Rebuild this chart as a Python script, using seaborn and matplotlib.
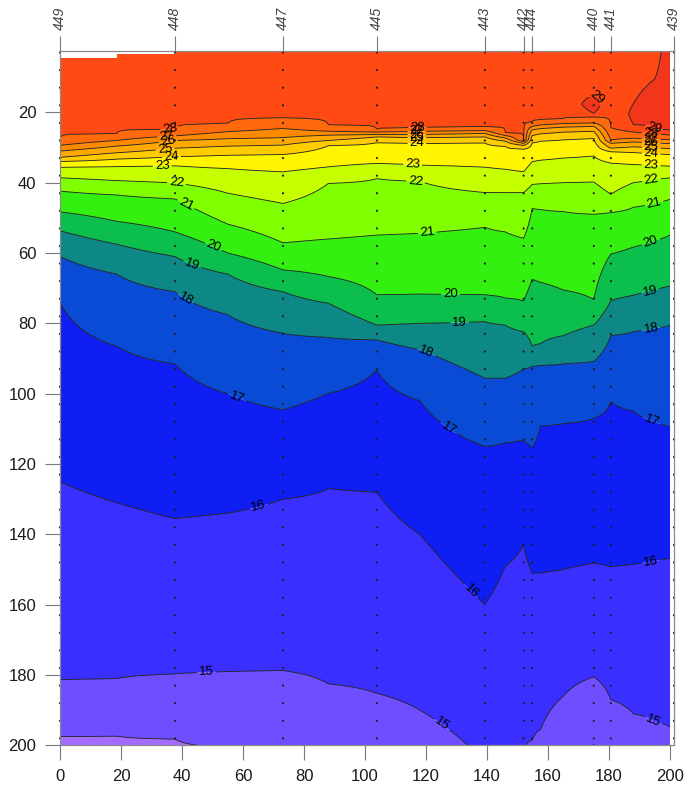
import numpy as np
import pandas as pd
import matplotlib
matplotlib.use("Agg")
import matplotlib.pyplot as plt
import seaborn as sns

# ---- stations along the section (distance, km) ----
station_ids = ["449", "448", "447", "445", "443", "442", "444", "440", "441", "439"]
station_x = [0.0, 37.7, 73.1, 103.9, 139.3, 152.0, 154.8, 175.0, 180.6, 201.3]
sample_depths = list(range(3, 200, 5))

# ---- gridded columns and isotherm depths (m) ----
col_x = [0, 18.6, 37.7, 55, 73.1, 88, 103.9, 118, 139.3, 146, 152, 154.8, 157.5,
         165, 175, 180.6, 188, 195, 200]

surf_T = [28.6] * 17 + [28.7, 29.3]
warm_top = [np.nan] * 14 + [15.0, np.nan, 17.5, 10.5, np.nan]
warm_bot = [np.nan] * 14 + [20.3, np.nan, 23.5, 24.8, 25.0]
warm_core = [np.nan] * 14 + [29.6, np.nan, 29.25, 29.25, 29.3]

iso_28 = [27.3, 26.0, 24.8, 23.2, 21.6, 23.5, 24.9, 24.4, 24.1, 25.8, 27.8, 22.7, 22.2, 21.8, 21.3, 24.4, 25.6, 26.0, 26.5]
iso_27 = [29.4, 28.0, 26.7, 25.5, 24.6, 25.4, 25.6, 25.4, 25.2, 26.6, 28.3, 24.0, 23.6, 23.2, 23.0, 27.9, 27.4, 27.6, 27.8]
iso_26 = [31.0, 29.6, 28.0, 27.5, 27.2, 26.5, 26.3, 26.3, 26.0, 27.3, 28.8, 25.0, 24.6, 24.2, 24.0, 28.8, 28.4, 28.7, 28.9]
iso_25 = [32.8, 31.5, 30.2, 29.6, 29.3, 28.0, 27.0, 27.2, 27.0, 28.2, 29.4, 26.6, 26.1, 25.6, 25.4, 30.2, 29.8, 30.1, 30.3]
iso_24 = [34.0, 33.3, 32.6, 32.2, 32.0, 29.5, 28.6, 28.8, 28.7, 29.7, 30.5, 28.7, 28.2, 27.8, 27.4, 31.2, 31.4, 31.8, 32.0]
iso_23 = [35.6, 35.4, 35.2, 36.0, 36.9, 35.5, 34.5, 35.0, 35.6, 36.2, 36.9, 34.0, 33.6, 33.0, 32.4, 34.4, 34.8, 35.1, 35.3]
iso_22 = [38.6, 39.4, 40.1, 43.0, 45.9, 40.2, 38.8, 39.6, 42.8, 42.8, 42.8, 40.5, 40.3, 40.0, 39.8, 43.3, 40.0, 39.0, 38.6]
iso_21 = [42.4, 43.5, 44.6, 51.8, 57.1, 56.0, 54.9, 54.4, 52.7, 54.0, 55.8, 47.3, 47.6, 48.2, 49.0, 48.5, 47.0, 45.8, 44.7]
iso_20 = [48.3, 51.0, 54.0, 60.0, 64.8, 66.7, 71.9, 71.7, 71.9, 72.8, 73.6, 67.5, 68.3, 70.5, 73.2, 60.3, 58.3, 56.5, 54.9]
iso_19 = [53.7, 57.5, 61.0, 66.0, 71.0, 74.3, 80.5, 80.0, 79.5, 80.5, 82.4, 86.5, 85.8, 83.5, 80.5, 73.5, 72.0, 70.5, 69.4]
iso_18 = [61.0, 66.0, 71.0, 77.5, 82.8, 84.0, 84.7, 87.5, 95.6, 95.6, 93.0, 92.2, 92.0, 91.5, 90.8, 83.5, 82.3, 81.3, 80.5]
iso_17 = [74.1, 86.5, 91.5, 100.0, 104.6, 99.9, 93.3, 102.0, 115.0, 114.0, 113.2, 115.3, 109.2, 108.5, 107.0, 102.2, 105.0, 108.0, 109.4]
iso_16 = [125.0, 131.0, 135.5, 134.0, 130.0, 127.0, 128.0, 140.0, 160.0, 149.0, 143.0, 151.0, 151.0, 150.0, 148.2, 149.2, 148.5, 147.5, 146.8]
iso_15 = [181.4, 181.0, 179.7, 179.0, 178.7, 182.5, 185.2, 190.0, 205.0, 207.0, 201.0, 198.5, 195.5, 186.0, 180.5, 187.0, 191.0, 193.3, 194.8]
iso_14 = [197.5, 197.3, 198.2, 200.6, 206.0, 212.0, 218.0, 222.0, 226.0, 226.0, 224.0, 220.0, 217.0, 212.0, 199.6, 210.0, 214.0, 216.0, 218.0]

# first sampled depth at the western stations (white above)
gap_x = [0.0, 18.6, 37.7]
gap_depth = [4.6, 3.5]

# ---- build temperature field ----
isotherms = {28: iso_28, 27: iso_27, 26: iso_26, 25: iso_25, 24: iso_24, 23: iso_23,
             22: iso_22, 21: iso_21, 20: iso_20, 19: iso_19, 18: iso_18, 17: iso_17,
             16: iso_16, 15: iso_15, 14: iso_14}
depth = np.linspace(0, 200, 801)
field = np.empty((depth.size, len(col_x)))
for j in range(len(col_x)):
    knots = [(0.0, surf_T[j])]
    wt, wb = warm_top[j], warm_bot[j]
    if not np.isnan(wb):
        top = 0.0 if np.isnan(wt) else wt
        if not np.isnan(wt):
            knots.append((wt, 29.0))
        knots.append(((top + wb) / 2, warm_core[j]))
        knots.append((wb, 29.0))
    for t in sorted(isotherms, reverse=True):
        knots.append((isotherms[t][j], float(t)))
    knots.append((320.0, 12.5))
    kd, kt = zip(*knots)
    field[:, j] = np.interp(depth, kd, kt)

levels_fill = [10, 14, 15, 16, 17, 18, 19, 20, 21, 22, 23, 24, 25, 26, 27, 28, 29, 32]
band_colors = ["#A36CFF", "#6E4EFF", "#3A2FFF", "#0F1EF2", "#0A4BD6", "#0E8787",
               "#0CBE4C", "#33F010", "#80FF00", "#C6FF00", "#FFF500", "#FFCC00",
               "#FFA800", "#FF8A00", "#FF6A0C", "#FF4A14", "#F2361C"]

label_pos = {
    29: [(175.2, 16.5), (193.8, 25.0)],
    28: [(36.0, 25.0), (117.2, 24.5), (193.8, 26.3)],
    27: [(35.0, 26.7), (117.0, 25.5), (193.8, 27.6)],
    26: [(35.4, 28.0), (117.0, 26.3), (193.8, 28.8)],
    25: [(34.4, 30.2), (117.0, 27.2), (193.8, 30.2)],
    24: [(36.6, 32.6), (117.0, 29.2), (193.8, 31.8)],
    23: [(33.5, 35.3), (115.6, 35.0), (193.8, 35.3)],
    22: [(38.2, 40.2), (116.6, 39.5), (193.8, 38.8)],
    21: [(41.5, 45.9), (120.5, 54.3), (194.8, 46.0)],
    20: [(50.8, 57.2), (128.0, 71.7), (193.5, 56.3)],
    19: [(42.6, 64.8), (131.0, 80.0), (193.5, 70.8)],
    18: [(41.3, 72.8), (120.0, 88.4), (193.8, 81.5)],
    17: [(58.0, 101.0), (127.5, 109.8), (193.8, 108.0)],
    16: [(65.2, 132.2), (133.9, 156.8), (193.8, 147.7)],
    15: [(48.1, 179.4), (124.4, 195.0), (194.8, 192.5)],
}

# ---- figure ----
sns.set_style("ticks")
plt.rcParams["font.family"] = ["Liberation Sans", "DejaVu Sans"]

fig = plt.figure(figsize=(6.84, 7.87), dpi=100)
ax = fig.add_axes([60 / 684, 1 - 745.4 / 787, 614 / 684, (745.4 - 51) / 787])
ax.set_xlim(0, 201.3)
ax.set_ylim(200, 2.56)

X, Y = np.meshgrid(col_x, depth)
ax.contourf(X, Y, field, levels=levels_fill, colors=band_colors, antialiased=True)

for lev, pos in label_pos.items():
    cs = ax.contour(X, Y, field, levels=[lev], colors="#1a1a1a", linewidths=0.6)
    ax.clabel(cs, manual=pos, inline=True, inline_spacing=2,
              fmt="%d", fontsize=9.5, colors="black")
cs14 = ax.contour(X, Y, field, levels=[14], colors="#1a1a1a", linewidths=0.6)

# no data above the first sample at the western end
for k in range(len(gap_depth)):
    ax.fill_between([gap_x[k], gap_x[k + 1]], 0, gap_depth[k], color="white", lw=0, zorder=3)

# sampling points
pts = pd.DataFrame([(sx, d) for sx in station_x for d in sample_depths], columns=["dist", "depth"])
sns.scatterplot(data=pts, x="dist", y="depth", ax=ax, s=2.5, color="#202020",
                edgecolor="none", zorder=4, legend=False, clip_on=False)
ax.set_xlim(0, 201.3)
ax.set_ylim(200, 2.56)

ax.set_xticks(range(0, 201, 20))
ax.set_yticks(range(20, 201, 20))
ax.set_xlabel("")
ax.set_ylabel("")
ax.tick_params(axis="both", direction="out", length=11, width=0.8, color="#7a7a7a",
               labelsize=12, labelcolor="#1a1a1a", pad=6)
for s in ax.spines.values():
    s.set_color("#8a8a8a")
    s.set_linewidth(0.9)
    s.set_zorder(5)

# station names on top
top = ax.twiny()
top.set_xlim(ax.get_xlim())
top.set_xticks(station_x)
top.set_xticklabels(station_ids, rotation=90, fontsize=10, style="italic", color="#444444")
top.tick_params(axis="x", direction="out", length=11, width=0.8, color="#7a7a7a", pad=4)
for s in top.spines.values():
    s.set_visible(False)

fig.savefig("out.png", dpi=100)
